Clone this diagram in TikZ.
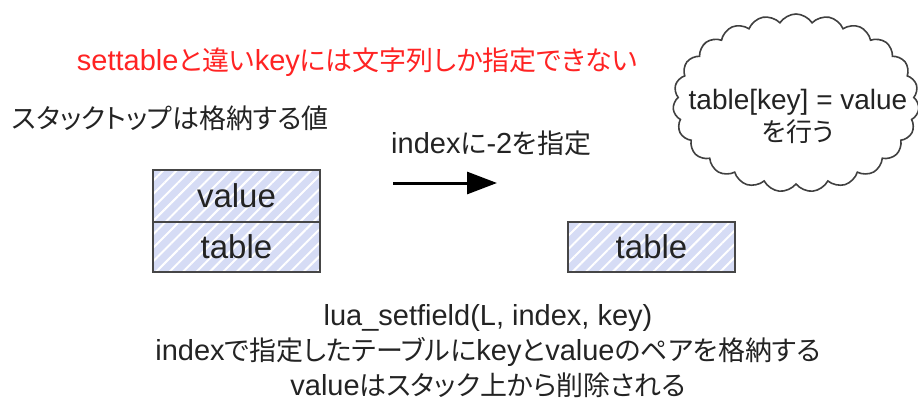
\documentclass[tikz,border=0pt]{standalone}
\usepackage{fontspec}
\setmainfont{Liberation Sans}
\newfontfamily\jp{Noto Sans CJK JP}[Scale=0.93,RawFeature=+palt]
\usetikzlibrary{shapes.symbols,patterns.meta,arrows.meta}
\definecolor{boxfill}{RGB}{214,220,245}
\definecolor{boxline}{RGB}{70,70,70}
\definecolor{redtxt}{RGB}{255,35,35}
\definecolor{txt}{RGB}{35,35,35}
\tikzset{
  stackbox/.style={draw=boxline, line width=2pt, preaction={fill=boxfill},
    pattern={Lines[angle=45,distance=9.5pt,line width=2pt]}, pattern color=white,
    minimum width=167pt, inner sep=0pt, text=txt,
    font=\fontsize{33}{36}\selectfont},
  label/.style={inner sep=0pt, text=txt, font=\fontsize{29}{34}\selectfont},
  note/.style={label, text=redtxt},
  arrowline/.style={line width=3pt, -{Triangle[length=30pt,width=22pt]}},
  thought/.style={cloud, cloud puffs=23, cloud puff arc=115, draw=black!75,
    line width=1.6pt, minimum width=246pt, minimum height=178pt, inner sep=0pt}
}
\begin{document}
\begin{tikzpicture}[x=1pt,y=-1pt]
\useasboundingbox (0,0) rectangle (918,401);
\clip (0,0) rectangle (918,401);
% stack boxes
\node[stackbox, minimum height=52pt] (val) at (236.5,196) {value};
\node[stackbox, minimum height=50pt] (tab) at (236.5,247) {table};
\node[stackbox, minimum height=50pt] (tab2) at (651.5,247) {table};
% arrow
\coordinate (a1) at (393,183);
\coordinate (a2) at (497,183);
\draw[arrowline] (a1) -- (a2);
% texts
\node[note] (nt) at (357,62) {settable{\jp と違い}key{\jp には文字列しか指定できない}};
\node[label, anchor=west] (st) at (12,118) {{\jp スタックトップは格納する値}};
\node[label, anchor=west] (ix) at (391,143) {index{\jp に}-2{\jp を指定}};
\node[label] (l1) at (488,318) {lua\_setfield(L, index, key)};
\node[label] (l2) at (488,352) {index{\jp で指定したテーブルに}key{\jp と}value{\jp のペアを格納する}};
\node[label] (l3) at (488,385) {value{\jp はスタック上から削除される}};
% cloud
\node[thought] (cl) at (796,103) {};
\node[label, align=center, font=\fontsize{28}{32}\selectfont] (ct) at (798,116) {table[key] = value\\{\jp を行う}};
\end{tikzpicture}
\end{document}
